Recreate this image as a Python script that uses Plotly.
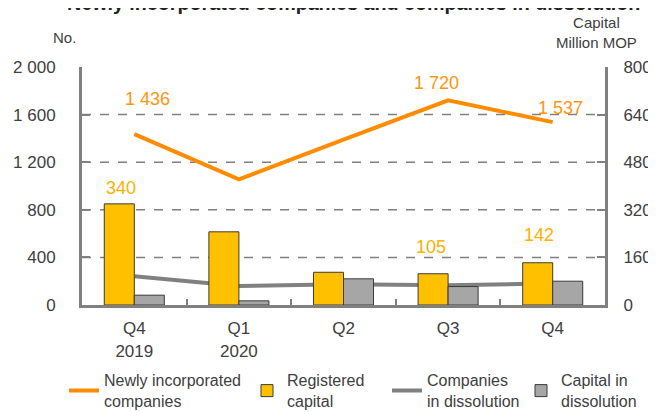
import plotly.graph_objects as go

# ---- data ----
quarters = ["Q4<br>2019", "Q1<br>2020", "Q2", "Q3", "Q4"]
new_companies = [1436, 1056, 1390, 1720, 1537]          # left axis (No.)
dissolved_companies = [241, 160, 174, 165, 182]         # left axis (No.)
registered_capital = [340, 246, 110, 105, 142]          # right axis (Million MOP)
dissolution_capital = [33, 14, 88, 62, 80]              # right axis (Million MOP)
left_ticks = [0, 400, 800, 1200, 1600, 2000]
right_ticks = [0, 160, 320, 480, 640, 800]
grid_levels = [400, 800, 1200, 1600]
new_labelled = [0, 3, 4]
capital_labelled = [0, 3, 4]

# ---- styles ----
FONT = "Liberation Sans, Arial, sans-serif"
TXT = "#404040"
AXC = "#808080"
ORANGE = "#FF8C00"
ORANGE_LBL = "#FF9410"
YELLOW = "#FFC000"
YELLOW_LBL = "#FFB000"
GREY_LINE = "#808080"
GREY_BAR = "#A6A6A6"

def fmt(v):
    return f"{v:,}".replace(",", " ")

fig = go.Figure()

fig.add_trace(go.Bar(
    x=quarters, y=registered_capital, yaxis="y2", name="Registered<br>capital",
    marker=dict(color=YELLOW, line=dict(color="#3a3a3a", width=1)),
    legend="legend2", offsetgroup="a"))
fig.add_trace(go.Bar(
    x=quarters, y=dissolution_capital, yaxis="y2", name="Capital in<br>dissolution",
    marker=dict(color=GREY_BAR, line=dict(color="#3a3a3a", width=1)),
    legend="legend4", offsetgroup="b"))
fig.add_trace(go.Scatter(
    x=quarters, y=new_companies, mode="lines", name="Newly incorporated<br>companies",
    line=dict(color=ORANGE, width=4), legend="legend"))
fig.add_trace(go.Scatter(
    x=quarters, y=dissolved_companies, mode="lines", name="Companies<br>in dissolution",
    line=dict(color=GREY_LINE, width=4), legend="legend3"))

# grid lines (no line at the top)
for g in grid_levels:
    fig.add_shape(type="line", xref="paper", yref="y", x0=0, x1=1, y0=g, y1=g,
                  line=dict(color=AXC, width=1.5, dash="dash"), layer="below")

annotations = []
line_shift = {0: (13, 35), 3: (-12, 17), 4: (8, 14)}
for i in new_labelled:
    dx, dy = line_shift[i]
    annotations.append(dict(x=quarters[i], y=new_companies[i], xref="x", yref="y",
                            text=fmt(new_companies[i]), showarrow=False,
                            xshift=dx, yshift=dy,
                            font=dict(family=FONT, size=18, color=ORANGE_LBL)))
bar_shift = {0: (-13, 16), 3: (-17, 27), 4: (-14, 28)}
for i in capital_labelled:
    dx, dy = bar_shift[i]
    annotations.append(dict(x=quarters[i], y=registered_capital[i], xref="x", yref="y2",
                            text=fmt(registered_capital[i]), showarrow=False,
                            xshift=dx, yshift=dy,
                            font=dict(family=FONT, size=18, color=YELLOW_LBL)))
annotations.append(dict(x=-0.034, y=1.122, xref="paper", yref="paper", text="No.",
                        xanchor="center", yanchor="middle",
                        showarrow=False, font=dict(family=FONT, size=15, color=TXT)))
annotations.append(dict(x=0.983, y=1.147, xref="paper", yref="paper",
                        xanchor="center", yanchor="middle",
                        text="Capital<br>Million MOP", showarrow=False,
                        font=dict(family=FONT, size=15, color=TXT)))
# chart title, mostly above the top edge as in the reference
annotations.append(dict(x=0.52, y=1.269, xref="paper", yref="paper",
                        xanchor="center", yanchor="middle",
                        text="<b>Newly incorporated companies and companies in dissolution</b>",
                        showarrow=False, font=dict(family=FONT, size=19.7, color="#222222")))

legend_common = dict(orientation="h", yanchor="top", y=-0.245, xanchor="left",
                     font=dict(family=FONT, size=16, color=TXT),
                     bgcolor="rgba(0,0,0,0)", tracegroupgap=0)

fig.update_layout(
    width=656, height=412,
    margin=dict(l=74, r=59, t=59, b=115, autoexpand=False),
    paper_bgcolor="white", plot_bgcolor="white",
    font=dict(family=FONT, size=17, color=TXT),
    separators=". ",
    showlegend=True,
    barmode="group", bargap=0.426, bargroupgap=0,
    xaxis=dict(type="category", showline=True, linecolor=AXC, linewidth=3,
               ticks="inside", tickson="boundaries", ticklen=6, tickcolor=AXC, tickwidth=2,
               showgrid=False, tickfont=dict(size=17, color=TXT), ticklabelstandoff=6),
    yaxis=dict(range=[0, 2000], tickvals=left_ticks, separatethousands=True,
               showline=True, linecolor=AXC, linewidth=3, showgrid=False,
               ticks="inside", ticklen=8, tickcolor=AXC, tickwidth=2,
               zeroline=False, tickfont=dict(size=17, color=TXT), ticklabelstandoff=20),
    yaxis2=dict(range=[0, 800], tickvals=right_ticks, overlaying="y", side="right",
                showline=True, linecolor=AXC, linewidth=3, showgrid=False,
                ticks="inside", ticklen=8, tickcolor=AXC, tickwidth=2,
                zeroline=False, tickfont=dict(size=17, color=TXT), ticklabelstandoff=12),
    annotations=annotations,
    legend=dict(x=(64 - 82) / 523, **legend_common),
    legend2=dict(x=(247 - 82) / 523, **legend_common),
    legend3=dict(x=(387 - 82) / 523, **legend_common),
    legend4=dict(x=(521 - 82) / 523, **legend_common),
)

fig.write_html("out.html")
